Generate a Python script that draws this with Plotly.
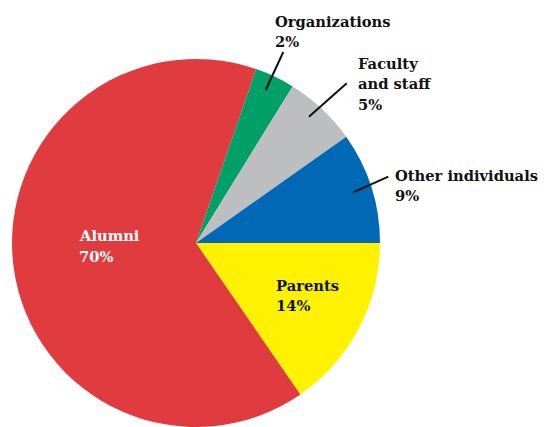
import plotly.graph_objects as go

W, H = 544, 427

categories = ["Parents", "Alumni", "Organizations", "Faculty and staff", "Other individuals"]
shares = [15.4, 64.9, 3.5, 6.4, 9.8]
label_lines = [["Parents", "14%"], ["Alumni", "70%"], ["Organizations", "2%"],
               ["Faculty", "and staff", "5%"], ["Other individuals", "9%"]]
colors = ["#FFF200", "#E03C40", "#00A068", "#BDBEC0", "#0068B4"]

FONT = "DejaVu Serif"
FS = 14.7
LINE_GAP = 20.5

fig = go.Figure(go.Pie(
    labels=categories,
    values=shares,
    sort=False,
    direction="clockwise",
    rotation=90,
    marker=dict(colors=colors, line=dict(width=0)),
    textinfo="none",
    hoverinfo="label+percent",
    domain=dict(x=[12 / W, 380 / W], y=[0, (H - 59) / H]),
    showlegend=False,
))

def px(x):
    return x / W

def py(y):
    return 1 - y / H

# (category index, left x, first baseline y, color)
label_pos = [
    (0, 275, 290, "#111111"),
    (1, 78, 240.5, "#FFFFFF"),
    (2, 274, 26, "#111111"),
    (3, 356.5, 68, "#111111"),
    (4, 394, 180, "#111111"),
]

annotations = []
for idx, x, base, col in label_pos:
    for k, line in enumerate(label_lines[idx]):
        b = base + k * LINE_GAP
        annotations.append(dict(
            x=px(x), y=py(b - 0.32 * FS), xref="paper", yref="paper",
            xanchor="left", yanchor="middle", align="left",
            text=f"<b>{line}</b>",
            showarrow=False, borderpad=0,
            font=dict(family=FONT, size=FS, color=col),
        ))

leader_lines = [
    (283.3, 52, 265.7, 90),
    (346.7, 83.3, 309, 116.7),
    (388.3, 176.7, 353.3, 192.3),
]
shapes = [dict(type="line", xref="paper", yref="paper",
               x0=px(a), y0=py(b), x1=px(c), y1=py(d),
               line=dict(color="#111111", width=2)) for a, b, c, d in leader_lines]

fig.update_layout(
    width=W, height=H,
    margin=dict(l=0, r=0, t=0, b=0),
    paper_bgcolor="white",
    plot_bgcolor="white",
    annotations=annotations,
    shapes=shapes,
)

fig.write_html("out.html",
               config={"displayModeBar": False},
               post_script="document.body.style.margin='0';document.body.style.overflow='hidden';")
